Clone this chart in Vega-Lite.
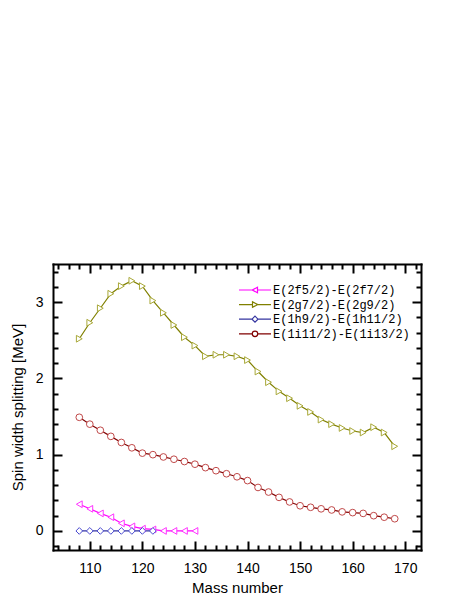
{
  "$schema": "https://vega.github.io/schema/vega-lite/v6.json",
  "width": 368,
  "height": 286,
  "autosize": {"type": "none"},
  "padding": {"left": 53, "top": 264, "right": 42, "bottom": 49},
  "background": "white",
  "config": {
    "view": {"stroke": null},
    "axis": {"grid": false, "labelFont": "Liberation Sans", "titleFont": "Liberation Sans", "labelColor": "black", "titleColor": "black", "domainColor": "black", "tickColor": "black", "titleFontWeight": "normal", "labelFontSize": 14, "titleFontSize": 15}
  },
  "datasets": {
    "d": [
      {"A": 108, "v": 0.35, "s": "E(2f5/2)-E(2f7/2)"},
      {"A": 110, "v": 0.29, "s": "E(2f5/2)-E(2f7/2)"},
      {"A": 112, "v": 0.23, "s": "E(2f5/2)-E(2f7/2)"},
      {"A": 114, "v": 0.18, "s": "E(2f5/2)-E(2f7/2)"},
      {"A": 116, "v": 0.10, "s": "E(2f5/2)-E(2f7/2)"},
      {"A": 118, "v": 0.06, "s": "E(2f5/2)-E(2f7/2)"},
      {"A": 120, "v": 0.03, "s": "E(2f5/2)-E(2f7/2)"},
      {"A": 122, "v": 0.02, "s": "E(2f5/2)-E(2f7/2)"},
      {"A": 124, "v": 0.0, "s": "E(2f5/2)-E(2f7/2)"},
      {"A": 126, "v": 0.0, "s": "E(2f5/2)-E(2f7/2)"},
      {"A": 128, "v": 0.0, "s": "E(2f5/2)-E(2f7/2)"},
      {"A": 130, "v": 0.0, "s": "E(2f5/2)-E(2f7/2)"},
      {"A": 108, "v": 2.52, "s": "E(2g7/2)-E(2g9/2)"},
      {"A": 110, "v": 2.73, "s": "E(2g7/2)-E(2g9/2)"},
      {"A": 112, "v": 2.92, "s": "E(2g7/2)-E(2g9/2)"},
      {"A": 114, "v": 3.11, "s": "E(2g7/2)-E(2g9/2)"},
      {"A": 116, "v": 3.21, "s": "E(2g7/2)-E(2g9/2)"},
      {"A": 118, "v": 3.28, "s": "E(2g7/2)-E(2g9/2)"},
      {"A": 120, "v": 3.21, "s": "E(2g7/2)-E(2g9/2)"},
      {"A": 122, "v": 3.02, "s": "E(2g7/2)-E(2g9/2)"},
      {"A": 124, "v": 2.86, "s": "E(2g7/2)-E(2g9/2)"},
      {"A": 126, "v": 2.70, "s": "E(2g7/2)-E(2g9/2)"},
      {"A": 128, "v": 2.54, "s": "E(2g7/2)-E(2g9/2)"},
      {"A": 130, "v": 2.43, "s": "E(2g7/2)-E(2g9/2)"},
      {"A": 132, "v": 2.29, "s": "E(2g7/2)-E(2g9/2)"},
      {"A": 134, "v": 2.31, "s": "E(2g7/2)-E(2g9/2)"},
      {"A": 136, "v": 2.31, "s": "E(2g7/2)-E(2g9/2)"},
      {"A": 138, "v": 2.29, "s": "E(2g7/2)-E(2g9/2)"},
      {"A": 140, "v": 2.24, "s": "E(2g7/2)-E(2g9/2)"},
      {"A": 142, "v": 2.09, "s": "E(2g7/2)-E(2g9/2)"},
      {"A": 144, "v": 1.95, "s": "E(2g7/2)-E(2g9/2)"},
      {"A": 146, "v": 1.83, "s": "E(2g7/2)-E(2g9/2)"},
      {"A": 148, "v": 1.74, "s": "E(2g7/2)-E(2g9/2)"},
      {"A": 150, "v": 1.64, "s": "E(2g7/2)-E(2g9/2)"},
      {"A": 152, "v": 1.56, "s": "E(2g7/2)-E(2g9/2)"},
      {"A": 154, "v": 1.46, "s": "E(2g7/2)-E(2g9/2)"},
      {"A": 156, "v": 1.40, "s": "E(2g7/2)-E(2g9/2)"},
      {"A": 158, "v": 1.35, "s": "E(2g7/2)-E(2g9/2)"},
      {"A": 160, "v": 1.31, "s": "E(2g7/2)-E(2g9/2)"},
      {"A": 162, "v": 1.29, "s": "E(2g7/2)-E(2g9/2)"},
      {"A": 164, "v": 1.36, "s": "E(2g7/2)-E(2g9/2)"},
      {"A": 166, "v": 1.29, "s": "E(2g7/2)-E(2g9/2)"},
      {"A": 168, "v": 1.11, "s": "E(2g7/2)-E(2g9/2)"},
      {"A": 108, "v": 0.0, "s": "E(1h9/2)-E(1h11/2)"},
      {"A": 110, "v": 0.0, "s": "E(1h9/2)-E(1h11/2)"},
      {"A": 112, "v": 0.0, "s": "E(1h9/2)-E(1h11/2)"},
      {"A": 114, "v": 0.0, "s": "E(1h9/2)-E(1h11/2)"},
      {"A": 116, "v": 0.0, "s": "E(1h9/2)-E(1h11/2)"},
      {"A": 118, "v": 0.0, "s": "E(1h9/2)-E(1h11/2)"},
      {"A": 120, "v": 0.0, "s": "E(1h9/2)-E(1h11/2)"},
      {"A": 122, "v": 0.0, "s": "E(1h9/2)-E(1h11/2)"},
      {"A": 108, "v": 1.49, "s": "E(1i11/2)-E(1i13/2)"},
      {"A": 110, "v": 1.40, "s": "E(1i11/2)-E(1i13/2)"},
      {"A": 112, "v": 1.32, "s": "E(1i11/2)-E(1i13/2)"},
      {"A": 114, "v": 1.24, "s": "E(1i11/2)-E(1i13/2)"},
      {"A": 116, "v": 1.16, "s": "E(1i11/2)-E(1i13/2)"},
      {"A": 118, "v": 1.09, "s": "E(1i11/2)-E(1i13/2)"},
      {"A": 120, "v": 1.02, "s": "E(1i11/2)-E(1i13/2)"},
      {"A": 122, "v": 1.00, "s": "E(1i11/2)-E(1i13/2)"},
      {"A": 124, "v": 0.97, "s": "E(1i11/2)-E(1i13/2)"},
      {"A": 126, "v": 0.94, "s": "E(1i11/2)-E(1i13/2)"},
      {"A": 128, "v": 0.91, "s": "E(1i11/2)-E(1i13/2)"},
      {"A": 130, "v": 0.875, "s": "E(1i11/2)-E(1i13/2)"},
      {"A": 132, "v": 0.83, "s": "E(1i11/2)-E(1i13/2)"},
      {"A": 134, "v": 0.79, "s": "E(1i11/2)-E(1i13/2)"},
      {"A": 136, "v": 0.75, "s": "E(1i11/2)-E(1i13/2)"},
      {"A": 138, "v": 0.71, "s": "E(1i11/2)-E(1i13/2)"},
      {"A": 140, "v": 0.66, "s": "E(1i11/2)-E(1i13/2)"},
      {"A": 142, "v": 0.57, "s": "E(1i11/2)-E(1i13/2)"},
      {"A": 144, "v": 0.51, "s": "E(1i11/2)-E(1i13/2)"},
      {"A": 146, "v": 0.44, "s": "E(1i11/2)-E(1i13/2)"},
      {"A": 148, "v": 0.38, "s": "E(1i11/2)-E(1i13/2)"},
      {"A": 150, "v": 0.33, "s": "E(1i11/2)-E(1i13/2)"},
      {"A": 152, "v": 0.31, "s": "E(1i11/2)-E(1i13/2)"},
      {"A": 154, "v": 0.29, "s": "E(1i11/2)-E(1i13/2)"},
      {"A": 156, "v": 0.275, "s": "E(1i11/2)-E(1i13/2)"},
      {"A": 158, "v": 0.25, "s": "E(1i11/2)-E(1i13/2)"},
      {"A": 160, "v": 0.24, "s": "E(1i11/2)-E(1i13/2)"},
      {"A": 162, "v": 0.23, "s": "E(1i11/2)-E(1i13/2)"},
      {"A": 164, "v": 0.20, "s": "E(1i11/2)-E(1i13/2)"},
      {"A": 166, "v": 0.18, "s": "E(1i11/2)-E(1i13/2)"},
      {"A": 168, "v": 0.16, "s": "E(1i11/2)-E(1i13/2)"}
    ]
  },
  "data": {"name": "d"},
  "resolve": {
    "axis": {"x": "independent", "y": "independent"},
    "scale": {"color": "independent", "shape": "independent"}
  },
  "layer": [
    {
      "mark": {"type": "line", "strokeWidth": 1.2},
      "encoding": {
        "x": {"field": "A", "type": "quantitative", "scale": {"domain": [103, 173], "nice": false, "zero": false},
          "axis": {"orient": "bottom", "values": [110, 120, 130, 140, 150, 160, 170], "ticks": false, "domain": true, "domainWidth": 2, "domainCap": "square", "labelPadding": 11, "title": "Mass number", "titlePadding": 5}},
        "y": {"field": "v", "type": "quantitative", "scale": {"domain": [-0.25, 3.5], "nice": false, "zero": false},
          "axis": {"orient": "left", "values": [0, 1, 2, 3], "ticks": false, "domain": true, "domainWidth": 2, "domainCap": "square", "labelPadding": 10, "title": "Spin width splitting [MeV]", "titlePadding": 10}},
        "color": {"field": "s", "type": "nominal",
          "scale": {"domain": ["E(2f5/2)-E(2f7/2)", "E(2g7/2)-E(2g9/2)", "E(1h9/2)-E(1h11/2)", "E(1i11/2)-E(1i13/2)"], "range": ["#ff00ff", "#808000", "#3535a0", "#800000"]},
          "legend": null}
      }
    },
    {
      "mark": {"type": "point", "filled": false, "fill": "white", "fillOpacity": 1, "opacity": 1, "size": 45, "strokeWidth": 1},
      "encoding": {
        "x": {"field": "A", "type": "quantitative",
          "axis": {"orient": "bottom", "values": [110, 120, 130, 140, 150, 160, 170], "labels": false, "domain": false, "tickSize": -9, "tickWidth": 2, "title": null}},
        "y": {"field": "v", "type": "quantitative",
          "axis": {"orient": "left", "values": [0, 1, 2, 3], "labels": false, "domain": false, "tickSize": -9, "tickWidth": 2, "title": null}},
        "stroke": {"field": "s", "type": "nominal",
          "scale": {"domain": ["E(2f5/2)-E(2f7/2)", "E(2g7/2)-E(2g9/2)", "E(1h9/2)-E(1h11/2)", "E(1i11/2)-E(1i13/2)"], "range": ["#ff33ff", "#a8a838", "#4a4ad0", "#c04848"]},
          "legend": null},
        "shape": {"field": "s", "type": "nominal",
          "scale": {"domain": ["E(2f5/2)-E(2f7/2)", "E(2g7/2)-E(2g9/2)", "E(1h9/2)-E(1h11/2)", "E(1i11/2)-E(1i13/2)"], "range": ["triangle-left", "triangle-right", "diamond", "circle"]},
          "legend": null}
      }
    },
    {
      "mark": {"type": "point", "filled": false, "opacity": 0},
      "encoding": {
        "x": {"field": "A", "type": "quantitative",
          "axis": {"orient": "bottom", "values": [104, 106, 108, 112, 114, 116, 118, 122, 124, 126, 128, 132, 134, 136, 138, 142, 144, 146, 148, 152, 154, 156, 158, 162, 164, 166, 168, 172], "labels": false, "domain": false, "tickSize": -5, "tickWidth": 2, "title": null}},
        "y": {"field": "v", "type": "quantitative",
          "axis": {"orient": "left", "values": [-0.2, 0.2, 0.4, 0.6, 0.8, 1.2, 1.4, 1.6, 1.8, 2.2, 2.4, 2.6, 2.8, 3.2, 3.4], "labels": false, "domain": false, "tickSize": -5, "tickWidth": 2, "title": null}},
        "color": {"field": "s", "type": "nominal",
          "scale": {"domain": ["E(2f5/2)-E(2f7/2)", "E(2g7/2)-E(2g9/2)", "E(1h9/2)-E(1h11/2)", "E(1i11/2)-E(1i13/2)"], "range": ["#ff00ff", "#808000", "#3535a0", "#800000"]},
          "legend": {"title": null, "orient": "none", "legendX": 196, "legendY": 20, "symbolSize": 100, "symbolStrokeWidth": 1.2, "symbolOpacity": 1, "symbolFillColor": "white", "labelFont": "Liberation Mono", "labelFontSize": 12, "labelColor": "black", "labelOffset": 12, "rowPadding": 2.6, "padding": 0,
            "encode": {"symbols": {"update": {"fill": {"value": "white"}, "opacity": {"value": 1}}}}}},
        "shape": {"field": "s", "type": "nominal",
          "scale": {"domain": ["E(2f5/2)-E(2f7/2)", "E(2g7/2)-E(2g9/2)", "E(1h9/2)-E(1h11/2)", "E(1i11/2)-E(1i13/2)"],
            "range": [
              "M-3.2,0L-0.55,0M0.5,0L3.2,0M-0.55,0L0.5,-0.55L0.5,0.55Z",
              "M-3.2,0L-0.5,0M0.55,0L3.2,0M0.55,0L-0.5,-0.55L-0.5,0.55Z",
              "M-3.2,0L-0.6,0M0.6,0L3.2,0M0,-0.6L0.6,0L0,0.6L-0.6,0Z",
              "M-3.2,0L-0.55,0M0.55,0L3.2,0M0.55,0A0.55,0.55 0 1,1 -0.55,0A0.55,0.55 0 1,1 0.55,0Z"
            ]},
          "legend": {"title": null, "orient": "none", "legendX": 196, "legendY": 20, "symbolSize": 100, "symbolStrokeWidth": 1.2, "symbolOpacity": 1, "symbolFillColor": "white", "labelFont": "Liberation Mono", "labelFontSize": 12, "labelColor": "black", "labelOffset": 12, "rowPadding": 2.6, "padding": 0,
            "encode": {"symbols": {"update": {"fill": {"value": "white"}, "opacity": {"value": 1}}}}}}
      }
    },
    {
      "mark": {"type": "point", "opacity": 0},
      "encoding": {
        "x": {"field": "A", "type": "quantitative",
          "axis": {"orient": "top", "values": [110, 120, 130, 140, 150, 160, 170], "labels": false, "domain": true, "domainWidth": 2, "domainCap": "square", "tickSize": -9, "tickWidth": 2, "title": null}},
        "y": {"field": "v", "type": "quantitative",
          "axis": {"orient": "right", "values": [0, 1, 2, 3], "labels": false, "domain": true, "domainWidth": 2, "domainCap": "square", "tickSize": -9, "tickWidth": 2, "title": null}}
      }
    },
    {
      "mark": {"type": "point", "opacity": 0},
      "encoding": {
        "x": {"field": "A", "type": "quantitative",
          "axis": {"orient": "top", "values": [104, 106, 108, 112, 114, 116, 118, 122, 124, 126, 128, 132, 134, 136, 138, 142, 144, 146, 148, 152, 154, 156, 158, 162, 164, 166, 168, 172], "labels": false, "domain": false, "tickSize": -5, "tickWidth": 2, "title": null}},
        "y": {"field": "v", "type": "quantitative",
          "axis": {"orient": "right", "values": [-0.2, 0.2, 0.4, 0.6, 0.8, 1.2, 1.4, 1.6, 1.8, 2.2, 2.4, 2.6, 2.8, 3.2, 3.4], "labels": false, "domain": false, "tickSize": -5, "tickWidth": 2, "title": null}}
      }
    }
  ]
}
